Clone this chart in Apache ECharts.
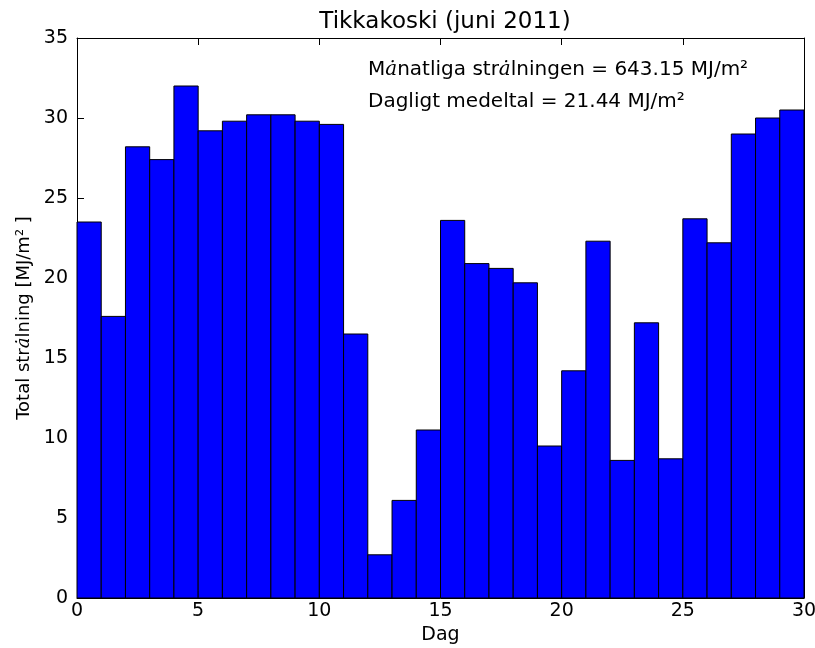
<!DOCTYPE html>
<html>
<head>
<meta charset="utf-8">
<script src="https://cdn.jsdelivr.net/npm/echarts@6/dist/echarts.min.js"></script>
<style>
  html, body { margin: 0; padding: 0; background: #fff; }
  #chart { width: 815px; height: 648px; }
</style>
</head>
<body>
<div id="chart"></div>
<script>
// dagar (vänsterkant på varje stapel) och daglig strålning, MJ/m2
var days = [0,1,2,3,4,5,6,7,8,9,10,11,12,13,14,15,16,17,18,19,20,21,22,23,24,25,26,27,28,29];
var radiation = [23.5, 17.6, 28.2, 27.4, 32.0, 29.2, 29.8, 30.2, 30.2, 29.8,
                 29.6, 16.5, 2.7, 6.1, 10.5, 23.6, 20.9, 20.6, 19.7, 9.5,
                 14.2, 22.3, 8.6, 17.2, 8.7, 23.7, 22.2, 29.0, 30.0, 30.5];
var xTicks = [0, 5, 10, 15, 20, 25, 30];
var yTicks = [0, 5, 10, 15, 20, 25, 30, 35];

var font = 'DejaVu Sans';
var seriesData = days.map(function (d, i) { return [d, radiation[i]]; });

var myChart = echarts.init(document.getElementById('chart'));

// axlar i matplotlib-stil: ram runt om, ticks inåt
function tickAxis(pos, isX, showLabel) {
    return {
        type: 'value',
        position: pos,
        min: isX ? xTicks[0] : yTicks[0],
        max: isX ? xTicks[xTicks.length - 1] : yTicks[yTicks.length - 1],
        interval: 5,
        axisLine: { show: true, onZero: false, lineStyle: { color: '#000', width: 1 } },
        axisTick: { show: true, inside: true, length: 7, lineStyle: { color: '#000' } },
        splitLine: { show: false },
        axisLabel: {
            show: showLabel,
            color: '#000',
            fontFamily: font,
            fontSize: 19,
            margin: isX ? 4 : 9
        }
    };
}

var xBottom = tickAxis('bottom', true, true);
xBottom.name = 'Dag';
xBottom.nameLocation = 'middle';
xBottom.nameGap = 27;
xBottom.nameTextStyle = { color: '#000', fontFamily: font, fontSize: 19 };

var yLeft = tickAxis('left', false, true);
yLeft.name = '{t|Total str}{a|ȧ}{t|lning [MJ/m² ]}';
yLeft.nameLocation = 'middle';
yLeft.nameGap = 44;
yLeft.nameTextStyle = {
    rich: {
        t: { color: '#000', fontFamily: font, fontSize: 18 },
        a: { color: '#000', fontFamily: 'DejaVu Serif', fontStyle: 'italic', fontSize: 18 }
    }
};

var option = {
    backgroundColor: '#fff',
    animation: false,
    title: {
        text: 'Tikkakoski (juni 2011)',
        left: 440,
        textAlign: 'center',
        top: 6,
        textStyle: { color: '#000', fontFamily: font, fontSize: 23, fontWeight: 'normal' }
    },
    grid: { left: 77, right: 11, top: 38, bottom: 50, outerBoundsMode: 'none', containLabel: false },
    xAxis: [xBottom, tickAxis('top', true, false)],
    yAxis: [yLeft, tickAxis('right', false, false)],
    graphic: [{
        type: 'text',
        left: 368,
        top: 60,
        style: {
            text: '{t|M}{a|ȧ}{t|natliga str}{a|ȧ}{t|lningen = 643.15 MJ/m²}\n{t|Dagligt medeltal = 21.44 MJ/m²}',
            rich: {
                t: { fill: '#000', fontFamily: font, fontSize: 20, lineHeight: 32 },
                a: { fill: '#000', fontFamily: 'DejaVu Serif', fontStyle: 'italic', fontSize: 20, lineHeight: 32 }
            }
        }
    }],
    series: [{
        type: 'custom',
        xAxisIndex: 0,
        yAxisIndex: 0,
        data: seriesData,
        encode: { x: 0, y: 1 },
        renderItem: function (params, api) {
            var p0 = api.coord([api.value(0), 0]);
            var p1 = api.coord([api.value(0) + 1, api.value(1)]);
            return {
                type: 'rect',
                shape: { x: p0[0], y: p1[1], width: p1[0] - p0[0], height: p0[1] - p1[1] },
                style: { fill: '#0000ff', stroke: '#000', lineWidth: 1 }
            };
        }
    }]
};

myChart.setOption(option);
</script>
</body>
</html>
